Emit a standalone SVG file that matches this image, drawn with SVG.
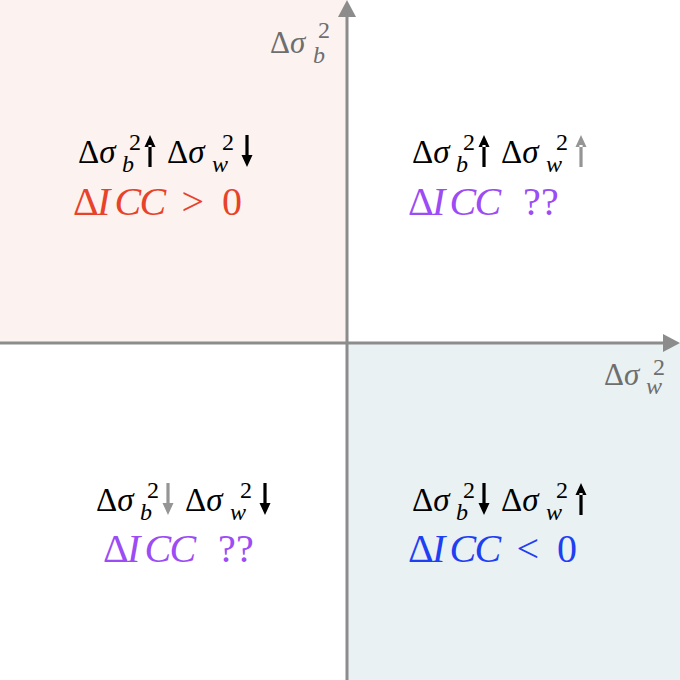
<svg xmlns="http://www.w3.org/2000/svg" width="680" height="680" viewBox="0 0 680 680">
<rect x="0" y="0" width="680" height="680" fill="#ffffff"/>
<rect id="q-tl-bg" x="0" y="0" width="347" height="343" fill="#fcf3f1"/>
<rect id="q-br-bg" x="347" y="343" width="333" height="337" fill="#e9f1f3"/>

<g id="axes" fill="#8c8c8c">
<line stroke="#8c8c8c" stroke-width="3" x1="347" y1="680" x2="347" y2="14"/>
<polygon points="338,17 356,17 347,0"/>
<line stroke="#8c8c8c" stroke-width="3" x1="0" y1="343" x2="666" y2="343"/>
<polygon points="663,334 663,352 680,343"/>
</g>

<g id="label-y" fill="#6e6e6e">
<text font-family="'Liberation Serif', serif" font-size="31" x="270" y="53">Δ<tspan font-style="italic">σ</tspan><tspan x="318" y="38" font-size="24">2</tspan><tspan x="313" y="63" font-size="24" font-style="italic">b</tspan></text>
</g>
<g id="label-x" fill="#6e6e6e">
<text font-family="'Liberation Serif', serif" font-size="31" x="604" y="385">Δ<tspan font-style="italic">σ</tspan><tspan x="653" y="375" font-size="24">2</tspan><tspan x="646" y="394" font-size="24" font-style="italic">w</tspan></text>
</g>

<g id="q-tl">
<g transform="translate(78,163)" fill="#000000">
<text font-family="'Liberation Serif', serif" font-size="33" x="0" y="0">Δ<tspan font-style="italic">σ</tspan><tspan x="51" y="-13" font-size="24">2</tspan><tspan x="44" y="9" font-size="24" font-style="italic">b</tspan><tspan x="89" y="0">Δ</tspan><tspan font-style="italic">σ</tspan><tspan x="144" y="-13" font-size="24">2</tspan><tspan x="134" y="9" font-size="24" font-style="italic">w</tspan></text>
<path transform="translate(72,0)" d="M-1.6,-18h3.2v22h-3.2z M-5.5,-16L5.5,-16L0,-28z"/>
<path transform="translate(169,0)" d="M-1.6,-28h3.2v22h-3.2z M-5.5,-8L5.5,-8L0,4z"/>
</g>
<g transform="translate(73,215)" fill="#e8432a">
<text font-family="'Liberation Serif', serif" font-size="40" y="0"><tspan x="0">Δ</tspan><tspan x="24" font-style="italic">I</tspan><tspan x="41.5" font-style="italic">C</tspan><tspan x="66.5" font-style="italic">C</tspan><tspan x="108.5">&gt;</tspan><tspan x="149">0</tspan></text>
</g>
</g>

<g id="q-tr">
<g transform="translate(412,163)" fill="#000000">
<text font-family="'Liberation Serif', serif" font-size="33" x="0" y="0">Δ<tspan font-style="italic">σ</tspan><tspan x="51" y="-13" font-size="24">2</tspan><tspan x="44" y="9" font-size="24" font-style="italic">b</tspan><tspan x="89" y="0">Δ</tspan><tspan font-style="italic">σ</tspan><tspan x="144" y="-13" font-size="24">2</tspan><tspan x="134" y="9" font-size="24" font-style="italic">w</tspan></text>
<path transform="translate(72,0)" d="M-1.6,-18h3.2v22h-3.2z M-5.5,-16L5.5,-16L0,-28z"/>
<path transform="translate(169,0)" fill="#959595" d="M-1.6,-18h3.2v22h-3.2z M-5.5,-16L5.5,-16L0,-28z"/>
</g>
<g transform="translate(408,215)" fill="#9b4cf5">
<text font-family="'Liberation Serif', serif" font-size="40" y="0"><tspan x="0">Δ</tspan><tspan x="24" font-style="italic">I</tspan><tspan x="41.5" font-style="italic">C</tspan><tspan x="66.5" font-style="italic">C</tspan><tspan x="115">?</tspan><tspan x="133">?</tspan></text>
</g>
</g>

<g id="q-bl">
<g transform="translate(96,511)" fill="#000000">
<text font-family="'Liberation Serif', serif" font-size="33" x="0" y="0">Δ<tspan font-style="italic">σ</tspan><tspan x="51" y="-13" font-size="24">2</tspan><tspan x="44" y="9" font-size="24" font-style="italic">b</tspan><tspan x="89" y="0">Δ</tspan><tspan font-style="italic">σ</tspan><tspan x="144" y="-13" font-size="24">2</tspan><tspan x="134" y="9" font-size="24" font-style="italic">w</tspan></text>
<path transform="translate(72,0)" fill="#959595" d="M-1.6,-28h3.2v22h-3.2z M-5.5,-8L5.5,-8L0,4z"/>
<path transform="translate(169,0)" d="M-1.6,-28h3.2v22h-3.2z M-5.5,-8L5.5,-8L0,4z"/>
</g>
<g transform="translate(103,562)" fill="#9b4cf5">
<text font-family="'Liberation Serif', serif" font-size="40" y="0"><tspan x="0">Δ</tspan><tspan x="24" font-style="italic">I</tspan><tspan x="41.5" font-style="italic">C</tspan><tspan x="66.5" font-style="italic">C</tspan><tspan x="115">?</tspan><tspan x="133">?</tspan></text>
</g>
</g>

<g id="q-br">
<g transform="translate(412,511)" fill="#000000">
<text font-family="'Liberation Serif', serif" font-size="33" x="0" y="0">Δ<tspan font-style="italic">σ</tspan><tspan x="51" y="-13" font-size="24">2</tspan><tspan x="44" y="9" font-size="24" font-style="italic">b</tspan><tspan x="89" y="0">Δ</tspan><tspan font-style="italic">σ</tspan><tspan x="144" y="-13" font-size="24">2</tspan><tspan x="134" y="9" font-size="24" font-style="italic">w</tspan></text>
<path transform="translate(72,0)" d="M-1.6,-28h3.2v22h-3.2z M-5.5,-8L5.5,-8L0,4z"/>
<path transform="translate(169,0)" d="M-1.6,-18h3.2v22h-3.2z M-5.5,-16L5.5,-16L0,-28z"/>
</g>
<g transform="translate(408,562)" fill="#1f3ff2">
<text font-family="'Liberation Serif', serif" font-size="40" y="0"><tspan x="0">Δ</tspan><tspan x="24" font-style="italic">I</tspan><tspan x="41.5" font-style="italic">C</tspan><tspan x="66.5" font-style="italic">C</tspan><tspan x="108.5">&lt;</tspan><tspan x="149">0</tspan></text>
</g>
</g>
</svg>
